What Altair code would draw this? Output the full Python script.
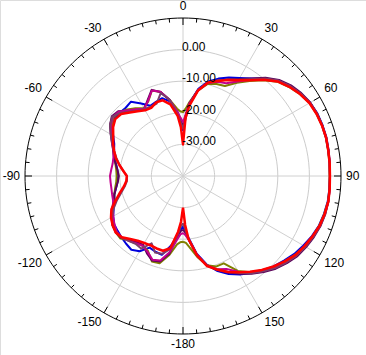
import altair as alt
import pandas as pd

# ---------------- data ----------------
ANGLES = [-180, -177.5, -175, -170, -165, -160, -155, -150, -145, -140, -135, -130,
          -125, -120, -115, -110, -105, -100, -95, -90, -85, -80, -75, -70, -65, -60,
          -55, -50, -45, -40, -35, -30, -25, -20, -15, -10, -5, -2.5, 0, 2.5, 5, 10,
          15, 20, 25, 30, 35, 40, 45, 50, 55, 60, 65, 70, 75, 80, 85, 90, 95, 100,
          105, 110, 115, 120, 125, 130, 135, 140, 145, 150, 155, 160, 165, 170, 175,
          177.5, 180]

BLUE = [-24, -23, -21, -17.5, -14.2, -14.5, -15.0, -12.5, -11.5, -12, -12.5, -13,
        -13.4, -14.5, -15.8, -17, -17.5, -18.5, -19.2, -19.4, -19.2, -18.5, -17.5, -16.8, -16, -14.5,
        -12.5, -11.6, -11.7, -11.8, -11.3, -13.5, -15.5, -15.0, -14.5, -16.0, -19.5, -22.5, -25.5, -21, -17, -12,
        -9, -7.2, -5.6, -4.2, -2.3, 0.2, 2.6, 4.2, 5.5, 6.4, 6.9, 7.0, 7.0, 6.8, 6.6, 6.5, 6.5, 6.5,
        6.2, 5.8, 5.0, 4.0, 3.0, 1.7, 0.5, -1.0, -2.5, -4.0, -5.8, -8.0, -11, -15, -20.5,
        -22.5, -24]

OLIVE = [-19.2, -19, -18.3, -14.5, -11.4, -11.2, -13.8, -14.5, -14.2, -13.5, -12, -12.2,
         -13, -14, -15.5, -16.8, -17.5, -18.2, -18.8, -19, -18.8, -18.3, -17.5, -16.5, -15.5, -14.3,
         -12.5, -11.2, -11.5, -12.5, -13.8, -15.2, -14, -11.2, -12.5, -15.5, -18.6, -19.5, -19.8, -18.5, -16.5, -12.5,
         -9.8, -9.0, -8.6, -5.9, -3.3, -0.4, 2.2, 3.8, 5.2, 6.2, 6.6, 6.8, 6.8, 6.6, 6.5, 6.4, 6.5, 6.6,
         6.3, 5.9, 5.3, 4.5, 3.4, 2.0, 0.6, -1.1, -2.8, -5.3, -9.5, -9.5, -10.8, -14, -17.5,
         -18.8, -19.2]

PURPLE = [-23, -22.5, -21, -15, -12, -11.5, -13, -14.8, -14.5, -13.5, -12.3, -12.3,
          -12.8, -13.8, -15.2, -16.6, -17.5, -18.5, -19.3, -19.7, -19.2, -18.4, -17.4, -16.5, -15.2, -13.6,
          -11.8, -10.6, -11, -13, -14.5, -15.5, -13.5, -11.0, -12.5, -15.5, -20, -22.5, -24, -21, -17, -12.3,
          -9.4, -7.8, -6.3, -4.6, -2.3, 0.6, 3.0, 4.6, 5.7, 6.5, 6.8, 6.9, 6.9, 6.7, 6.6, 6.5, 6.6, 6.7,
          6.6, 6.3, 5.7, 5.0, 4.2, 2.9, 1.5, -0.3, -2.2, -4.3, -6.3, -8.3, -10.8, -14.5, -20,
          -22, -23]

MAGENTA = [-22, -21.5, -20, -15.5, -12.3, -11.8, -13.5, -14.5, -14, -13.2, -12.5, -12.6,
           -13.5, -14.5, -15.6, -16.5, -16.8, -17, -17, -16.9, -17.2, -17.4, -17.2, -16.6, -15.2, -13.8,
           -12.1, -11, -11.2, -12.8, -14.2, -15.4, -13.8, -11.2, -12.4, -15.6, -19.5, -21.5, -23, -20.5, -17, -12.4,
           -9.5, -8.3, -7.6, -5.5, -2.8, 0.1, 2.6, 4.2, 5.4, 6.3, 6.7, 6.8, 6.8, 6.7, 6.6, 6.5, 6.6, 6.7,
           6.5, 6.1, 5.4, 4.6, 3.8, 2.5, 1.0, -0.8, -2.6, -5.0, -7.5, -8.6, -10.6, -14.8, -19.8,
           -21.2, -22]

MAUVE = [-25, -24, -21.5, -16.5, -14.5, -14.2, -16.5, -13.5, -13.8, -13.2, -12.5, -12.3,
         -12.8, -14, -15.8, -17.8, -19.8, -21.3, -22.2, -22.3, -21.0, -19.6, -18.2, -16.8, -15.3, -13.6,
         -11.8, -10.8, -11.8, -13.5, -14.8, -15.5, -15.8, -15.6, -12.8, -15.5, -20.5, -23, -25, -22, -17.5, -12.4,
         -9.3, -7.8, -6.4, -4.8, -2.6, 0.3, 2.7, 4.3, 5.5, 6.4, 6.8, 6.9, 6.9, 6.7, 6.6, 6.5, 6.6, 6.7,
         6.6, 6.2, 5.5, 4.8, 3.9, 2.6, 1.2, -0.6, -2.4, -4.6, -6.6, -8.5, -10.7, -14.6, -20,
         -23, -25]

RED = [-30, -25.5, -22.3, -16.8, -15.5, -15.6, -15.8, -15.5, -15.0, -14.0, -12.6, -12.2,
       -12.8, -13.7, -15.0, -17.3, -19.3, -21.0, -22.0, -22.2, -21.0, -19.5, -18.0, -16.8, -15.6, -14.5,
       -13.0, -12.0, -12.3, -13.8, -15.0, -16.0, -16.2, -15.2, -15.2, -17.0, -21.0, -24.5, -30, -21.5, -17.8, -12.5,
       -9.4, -8.0, -6.5, -5.0, -3.0, -0.2, 2.3, 3.9, 5.2, 6.2, 6.6, 6.8, 6.9, 6.7, 6.6, 6.5, 6.6, 6.7,
       6.4, 6.0, 5.2, 4.4, 3.5, 2.0, 0.5, -1.2, -3.0, -4.8, -6.5, -8.5, -10.5, -14.5, -20.0,
       -24.5, -30]

SERIES_NAMES = ["blue", "olive", "purple", "magenta", "mauve", "red"]
SERIES_VALUES = [BLUE, OLIVE, PURPLE, MAGENTA, MAUVE, RED]
SERIES_COLORS = ["#0000DD", "#808000", "#5A005A", "#C4008C", "#7A3F6A", "#FF0000"]

DB_LEVELS = [-30, -20, -10, 0]
DB_LABELS = ["-30.00", "-20.00", "-10.00", "0.00"]
DB_MIN, DB_MAX = -40, 10

ANGLE_TICKS = [-150, -120, -90, -60, -30, 0, 30, 60, 90, 120, 150, 180]
ANGLE_TEXT = ["-150", "-120", "-90", "-60", "-30", "0", "30", "60", "90", "120", "150", "-180"]

# ---------------- geometry helpers (style, not data) ----------------
PX_PER_DB = 3.16
W, H = 366, 355
CX, CY = 183, 176

xs = alt.Scale(domain=[-CX, W - CX], range=[0, W])
ys = alt.Scale(domain=[CY - H, CY], range=[H, 0])
X = lambda f: alt.X(f, type="quantitative", scale=xs, axis=None)
Y = lambda f: alt.Y(f, type="quantitative", scale=ys, axis=None)

r_expr = f"max(0, datum.db - ({DB_MIN})) * {PX_PER_DB}"
FONT = "Liberation Sans"

# grid circles
circ_rows = [{"level": lv, "a": a, "db": lv} for lv in DB_LEVELS for a in range(0, 361, 3)]
grid = alt.Chart(pd.DataFrame(circ_rows)).transform_calculate(
    r=r_expr
).transform_calculate(
    px="datum.r * sin(datum.a * PI / 180)", py="datum.r * cos(datum.a * PI / 180)"
).mark_line(color="#CCCCCC", strokeWidth=1).encode(
    x=X("px"), y=Y("py"), detail="level:N", order="a:Q"
)

# spokes
spoke_rows = [{"a": a, "db": DB_MAX} for a in range(0, 360, 30)]
spokes = alt.Chart(pd.DataFrame(spoke_rows)).transform_calculate(
    r=r_expr
).transform_calculate(
    px="datum.r * sin(datum.a * PI / 180)", py="datum.r * cos(datum.a * PI / 180)",
    zero="0"
).mark_rule(color="#D0D0D0", strokeWidth=1).encode(
    x=X("zero:Q"), y=Y("zero:Q"), x2="px:Q", y2="py:Q"
)

# outer circle
outer_rows = [{"a": a, "db": DB_MAX} for a in range(0, 361, 2)]
outer = alt.Chart(pd.DataFrame(outer_rows)).transform_calculate(
    r=r_expr
).transform_calculate(
    px="datum.r * sin(datum.a * PI / 180)", py="datum.r * cos(datum.a * PI / 180)"
).mark_line(color="#000000", strokeWidth=1).encode(
    x=X("px"), y=Y("py"), order="a:Q"
)

# ticks on the outer circle
tick_rows = [{"a": a, "db": DB_MAX} for a in range(0, 360, 5)]
ticks = alt.Chart(pd.DataFrame(tick_rows)).transform_calculate(
    r=r_expr
).transform_calculate(
    ri="datum.a % 30 == 0 ? datum.r - 7 : datum.r - 4"
).transform_calculate(
    px="datum.r * sin(datum.a * PI / 180)", py="datum.r * cos(datum.a * PI / 180)",
    qx="datum.ri * sin(datum.a * PI / 180)", qy="datum.ri * cos(datum.a * PI / 180)"
).mark_rule(color="#000000", strokeWidth=1).encode(
    x=X("px:Q"), y=Y("py:Q"), x2="qx:Q", y2="qy:Q"
)

# dB labels
dbl = alt.Chart(pd.DataFrame({"db": DB_LEVELS, "label": DB_LABELS})).transform_calculate(
    r=r_expr
).transform_calculate(
    px="0", py="datum.r"
).mark_text(align="left", baseline="alphabetic", dx=-1, dy=1, font=FONT, fontSize=12,
            color="#000000").encode(x=X("px:Q"), y=Y("py:Q"), text="label:N")

# angle labels
lab_df = pd.DataFrame({"a": ANGLE_TICKS, "label": ANGLE_TEXT})
lab_layers = []
for aligns, base, sel in [
    ("left", "bottom", [30, 60]), ("left", "middle", [90]), ("left", "top", [120, 150]),
    ("right", "bottom", [-30, -60]), ("right", "middle", [-90]), ("right", "top", [-120, -150]),
    ("center", "bottom", [0]), ("center", "top", [180]),
]:
    lab_layers.append(
        alt.Chart(lab_df).transform_filter(
            alt.FieldOneOfPredicate(field="a", oneOf=sel)
        ).transform_calculate(
            px="163 * sin(datum.a * PI / 180)", py="163 * cos(datum.a * PI / 180)"
        ).mark_text(align=aligns, baseline=base, font=FONT, fontSize=12, color="#000000").encode(
            x=X("px:Q"), y=Y("py:Q"), text="label:N"
        )
    )

# pattern curves
rows = []
for name, vals in zip(SERIES_NAMES, SERIES_VALUES):
    for i, (a, v) in enumerate(zip(ANGLES, vals)):
        rows.append({"series": name, "idx": i, "angle": a, "db": v})
curves_df = pd.DataFrame(rows)

curve_layers = []
for name, col in zip(SERIES_NAMES, SERIES_COLORS):
    curve_layers.append(
        alt.Chart(curves_df).transform_filter(
            alt.datum.series == name
        ).transform_calculate(
            r=r_expr
        ).transform_calculate(
            px="datum.r * sin(datum.angle * PI / 180)", py="datum.r * cos(datum.angle * PI / 180)"
        ).mark_line(color=col, strokeWidth=2.5 if name == "red" else 2, interpolate="linear",
                    strokeJoin="round").encode(
            x=X("px:Q"), y=Y("py:Q"), order="idx:Q"
        )
    )

chart = alt.layer(grid, spokes, outer, ticks, *curve_layers, dbl, *lab_layers).properties(
    width=W, height=H, autosize=alt.AutoSizeParams(type="none"), padding=0
).configure_view(stroke=None).configure(background="#FFFFFF")

chart.save("out.html", embed_options={"renderer": "svg", "actions": False})
